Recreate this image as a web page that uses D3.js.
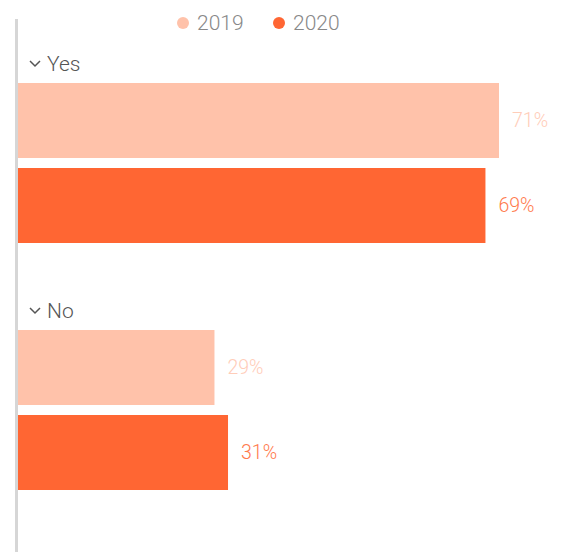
<!DOCTYPE html>
<html>
<head>
<meta charset="utf-8">
<script src="https://cdn.jsdelivr.net/npm/d3@7"></script>
<style>
  html, body { margin: 0; padding: 0; background: #fff; }
  svg { display: block; font-family: Roboto, "Open Sans", sans-serif; }
</style>
</head>
<body>
<svg id="chart" width="563" height="552"></svg>
<script>
// Answer groups, survey years and share of responses (%)
const categories = ["Yes", "No"];
const years = ["2019", "2020"];
const values2019 = [71, 29];
const values2020 = [69, 31];
const colors = ["#ffc2aa", "#ff6633"];
const labelColors = ["#ffcdb9", "#ff7a4c"];

const svg = d3.select("#chart");
const W = 563, H = 552;

const x = d3.scaleLinear().domain([0, 71]).range([18, 499]);

// One band per category, sub-band per year
const yGroup = d3.scaleBand().domain(categories).range([83, 577]).paddingInner(0).paddingOuter(0);
const yYear = d3.scaleBand().domain(years).range([0, 160]).paddingInner(10 / 85);

const rows = [];
categories.forEach((c, i) => {
  rows.push({ cat: c, year: "2019", value: values2019[i], k: 0 });
  rows.push({ cat: c, year: "2020", value: values2020[i], k: 1 });
});

// Vertical baseline
svg.append("line")
  .attr("x1", 16.5).attr("x2", 16.5)
  .attr("y1", 19).attr("y2", H)
  .attr("stroke", "#d6d6d6").attr("stroke-width", 3);

// Bars
svg.selectAll("rect.bar").data(rows).join("rect")
  .attr("class", "bar")
  .attr("x", x(0))
  .attr("y", d => yGroup(d.cat) + yYear(d.year))
  .attr("width", d => x(d.value) - x(0))
  .attr("height", yYear.bandwidth())
  .attr("fill", d => colors[d.k]);

// Value labels
svg.selectAll("text.val").data(rows).join("text")
  .attr("class", "val")
  .attr("x", d => x(d.value) + 13)
  .attr("y", d => yGroup(d.cat) + yYear(d.year) + yYear.bandwidth() / 2)
  .attr("dy", "0.35em")
  .attr("font-size", 19.5)
  .attr("font-weight", 300)
  .attr("fill", d => labelColors[d.k])
  .text(d => d.value + "%");

// Category headers with chevrons
const head = svg.selectAll("g.head").data(categories).join("g")
  .attr("class", "head")
  .attr("transform", d => `translate(0,${yGroup(d) - 19})`);
head.append("path")
  .attr("d", "M30,-3 L35,2 L40,-3")
  .attr("fill", "none").attr("stroke", "#555").attr("stroke-width", 1.5);
head.append("text")
  .attr("x", 47).attr("y", 0).attr("dy", "0.35em")
  .attr("font-size", 21).attr("font-weight", 300)
  .attr("fill", "#555")
  .text(d => d);

// Legend
const legendX = [183, 279];
const lg = svg.selectAll("g.legend").data(years).join("g")
  .attr("class", "legend")
  .attr("transform", (d, i) => `translate(${legendX[i]},23)`);
lg.append("circle").attr("r", 6).attr("fill", (d, i) => colors[i]);
lg.append("text")
  .attr("x", 14).attr("dy", "0.35em")
  .attr("font-size", 21).attr("font-weight", 300)
  .attr("fill", "#888")
  .text(d => d);
</script>
</body>
</html>
